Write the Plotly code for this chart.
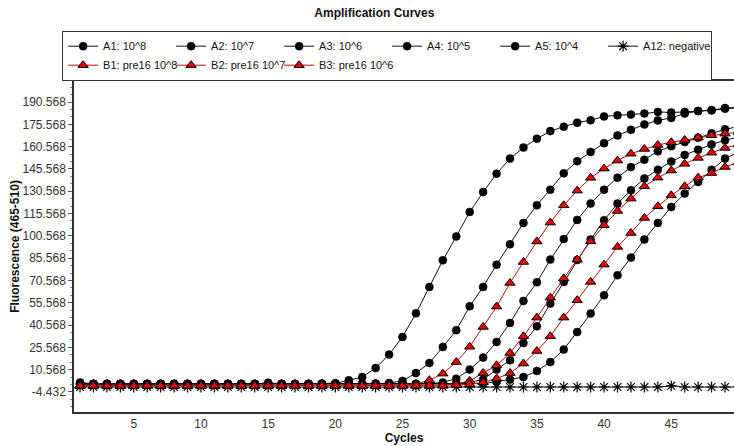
import plotly.graph_objects as go

cycles = list(range(1, 51))

A1 = [2.0, 1.0, 1.0, 1.0, 1.0, 1.0, 1.0, 1.0, 1.0, 1.0,
      1.0, 1.0, 1.0, 1.0, 1.8, 1.0, 1.0, 1.0, 1.2, 1.5,
      3.4, 5.6, 11.7, 20.7, 32.6, 48.5, 66.2, 84.1, 100.2, 116.6,
      130.0, 142.4, 152.5, 159.9, 165.9, 171.0, 174.0, 176.7, 178.3, 180.9,
      181.6, 182.1, 182.8, 183.9, 183.5, 183.9, 184.5, 185.0, 186.5, 187.0]
A2 = [1.0, 1.0, 1.0, 1.0, 1.0, 1.0, 1.0, 1.0, 1.0, 1.0,
      1.0, 1.0, 1.0, 1.0, 1.0, 1.0, 1.0, 1.0, 1.0, 1.0,
      1.0, 1.0, 1.2, 1.6, 3.0, 8.3, 15.1, 25.8, 37.1, 53.2,
      66.2, 81.2, 94.9, 109.2, 121.1, 131.6, 142.6, 150.8, 157.0, 162.9,
      168.1, 171.9, 175.5, 178.2, 179.9, 182.8, 184.5, 185.0, 186.1, 186.8]
A3 = [1.0, 1.0, 1.0, 1.0, 1.0, 1.0, 1.0, 1.0, 1.0, 1.0,
      1.0, 1.0, 1.0, 1.0, 1.0, 1.0, 1.0, 1.0, 1.0, 1.0,
      1.0, 1.0, 1.0, 1.0, 1.0, 1.0, 1.2, 2.0, 4.5, 10.6,
      18.7, 29.2, 42.0, 56.8, 69.3, 84.6, 98.4, 111.3, 122.3, 131.6,
      139.7, 146.8, 151.8, 157.4, 160.8, 163.7, 166.5, 169.5, 172.2, 174.0]
A4 = [1.0, 1.0, 1.0, 1.0, 1.0, 1.0, 1.0, 1.0, 1.0, 1.0,
      1.0, 1.0, 1.0, 1.0, 1.0, 1.0, 1.0, 1.0, 1.0, 1.0,
      1.0, 1.0, 1.0, 1.0, 1.0, 1.0, 1.0, 1.0, 1.2, 2.0,
      4.0, 10.6, 16.9, 28.5, 39.7, 55.0, 69.6, 84.3, 98.1, 111.0,
      122.3, 131.2, 139.1, 145.0, 150.5, 155.0, 158.5, 162.0, 164.8, 167.0]
A5 = [1.0, 1.0, 1.0, 1.0, 1.0, 1.0, 1.0, 1.0, 1.0, 1.0,
      1.0, 1.0, 1.0, 1.0, 1.0, 1.0, 1.0, 1.0, 1.0, 1.0,
      1.0, 1.0, 1.0, 1.0, 1.0, 1.0, 1.0, 1.0, 1.0, 1.0,
      1.2, 2.5, 3.9, 5.6, 9.7, 15.7, 24.1, 35.9, 48.3, 60.6,
      74.1, 86.0, 98.1, 109.2, 120.0, 129.0, 136.8, 145.0, 152.5, 157.0]
A12 = [-1.1, -1.1, -1.1, -1.1, -1.1, -1.1, -1.1, -1.1, -1.1, -1.1,
       -1.1, -1.1, -1.1, -1.1, -1.1, -1.1, -1.1, -1.1, -1.1, -1.1,
       -1.1, -1.1, -1.1, -1.1, -1.1, -1.1, -1.1, -1.1, -1.1, -1.1,
       -1.1, -1.1, -1.1, -1.1, -1.1, -1.1, -1.1, -1.1, -1.1, -1.1,
       -1.1, -1.1, -1.1, -1.1, -0.3, -1.1, -1.1, -1.1, -1.1, -1.1]
B1 = [-0.3, -0.3, -0.3, -0.3, -0.3, -0.3, -0.3, -0.3, -0.3, -0.3,
      -0.3, -0.3, -0.3, -0.3, -0.3, -0.3, -0.3, -0.3, -0.3, -0.3,
      -0.3, -0.3, -0.3, -0.3, 0.2, 1.0, 3.5, 7.9, 15.7, 26.0,
      39.3, 53.0, 68.9, 83.0, 96.8, 109.5, 121.1, 131.0, 139.6, 145.8,
      151.2, 155.8, 159.0, 161.7, 163.5, 165.0, 166.7, 168.2, 169.3, 170.3]
B2 = [-0.3, -0.3, -0.3, -0.3, -0.3, -0.3, -0.3, -0.3, -0.3, -0.3,
      -0.3, -0.3, -0.3, -0.3, -0.3, -0.3, -0.3, -0.3, -0.3, -0.3,
      -0.3, -0.3, -0.3, -0.3, -0.3, -0.3, -0.3, 0.2, 1.0, 3.0,
      8.3, 13.5, 21.8, 33.0, 45.6, 59.0, 72.0, 84.6, 96.9, 107.7,
      117.3, 125.6, 133.9, 139.7, 144.5, 149.0, 153.0, 156.5, 159.7, 162.0]
B3 = [-0.3, -0.3, -0.3, -0.3, -0.3, -0.3, -0.3, -0.3, -0.3, -0.3,
      -0.3, -0.3, -0.3, -0.3, -0.3, -0.3, -0.3, -0.3, -0.3, -0.3,
      -0.3, -0.3, -0.3, -0.3, -0.3, -0.3, -0.3, -0.3, 0.2, 0.8,
      2.0, 4.6, 8.3, 14.7, 23.1, 33.0, 45.6, 57.3, 69.6, 81.2,
      93.1, 102.5, 112.6, 120.4, 127.8, 133.9, 139.7, 142.8, 146.9, 150.0]

y_tick_values = [-4.432, 10.568, 25.568, 40.568, 55.568, 70.568, 85.568,
                 100.568, 115.568, 130.568, 145.568, 160.568, 175.568, 190.568]
y_tick_labels = ["-4.432", "10.568", "25.568", "40.568", "55.568", "70.568", "85.568",
                 "100.568", "115.568", "130.568", "145.568", "160.568", "175.568", "190.568"]
x_tick_values = [5, 10, 15, 20, 25, 30, 35, 40, 45, 50]

black_series = [("A1: 10^8", A1), ("A2: 10^7", A2), ("A3: 10^6", A3),
                ("A4: 10^5", A4), ("A5: 10^4", A5)]
red_series = [("B1: pre16 10^8", B1), ("B2: pre16 10^7", B2), ("B3: pre16 10^6", B3)]

FONT = "Liberation Sans, Arial, sans-serif"

fig = go.Figure()
for name, vals in black_series:
    fig.add_trace(go.Scatter(
        x=cycles, y=vals, name=name, mode="lines+markers",
        line=dict(color="#111111", width=1),
        marker=dict(symbol="circle", size=8, color="#000000",
                    line=dict(color="#000000", width=0.5)),
    ))
fig.add_trace(go.Scatter(
    x=cycles, y=A12, name="A12: negative", mode="lines+markers",
    line=dict(color="#111111", width=1),
    marker=dict(symbol="asterisk-open", size=9, color="#000000",
                line=dict(color="#000000", width=1.2)),
))
for name, vals in red_series:
    fig.add_trace(go.Scatter(
        x=cycles, y=vals, name=name, mode="lines+markers",
        line=dict(color="#b01010", width=1),
        marker=dict(symbol="triangle-up", size=9, color="#e60000",
                    line=dict(color="#000000", width=1)),
    ))

fig.update_layout(
    width=734, height=446,
    margin=dict(l=74, r=0, t=81, b=34),
    paper_bgcolor="white", plot_bgcolor="white",
    font=dict(family=FONT, size=12, color="#222222"),
    title=dict(text="<b>Amplification Curves</b>", x=0.51, xanchor="center",
               y=0.98, yanchor="top", font=dict(size=12, color="#111111")),
    showlegend=True,
    legend=dict(orientation="h", x=-0.018, xanchor="left", y=1.152, yanchor="top",
                entrywidth=63, entrywidthmode="pixels", itemwidth=30,
                bordercolor="#333333", borderwidth=1, bgcolor="white",
                font=dict(size=11, color="#111111"), traceorder="normal"),
    xaxis=dict(range=[0.55, 49.67], tickvals=x_tick_values, showgrid=False,
               zeroline=False, showline=True, linecolor="#333333", linewidth=1.5,
               mirror=True, ticks="", tickfont=dict(size=12, color="#333333"),
               title=dict(text="<b>Cycles</b>", standoff=2,
                          font=dict(size=12, color="#111111"))),
    yaxis=dict(range=[-17.9, 204.7], tickvals=y_tick_values, ticktext=y_tick_labels,
               showgrid=False, zeroline=False, showline=True, linecolor="#333333",
               linewidth=1.5, ticks="outside", ticklen=4, tickcolor="#555555",
               tickfont=dict(size=12, color="#333333"),
               minor=dict(tick0=-4.432, dtick=5, ticks="outside",
                          ticklen=2, tickcolor="#888888"),
               title=dict(text="<b>Fluorescence (465-510)</b>", standoff=0,
                          font=dict(size=12, color="#111111"))),
)

fig.write_html("out.html")
